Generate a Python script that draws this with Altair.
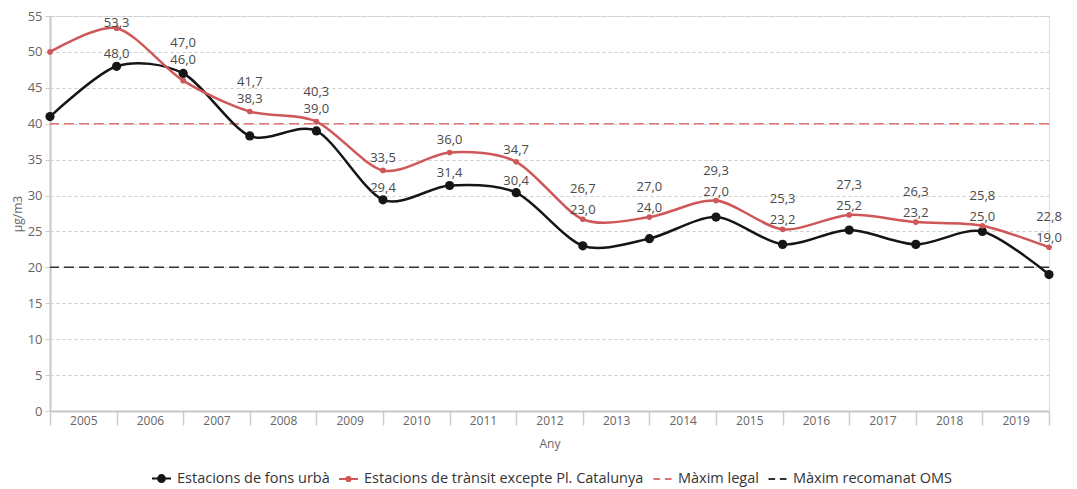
import json
import altair as alt
import pandas as pd

# ---------------- data ----------------
years = ["2005", "2006", "2007", "2008", "2009", "2010", "2011", "2012",
         "2013", "2014", "2015", "2016", "2017", "2018", "2019"]
black_vals = [41.0, 48.0, 47.0, 38.3, 39.0, 29.4, 31.4, 30.4,
              23.0, 24.0, 27.0, 23.2, 25.2, 23.2, 25.0, 19.0]
red_vals = [50.0, 53.3, 46.0, 41.7, 40.3, 33.5, 36.0, 34.7,
            26.7, 27.0, 29.3, 25.3, 27.3, 26.3, 25.8, 22.8]
series_names = ["Estacions de fons urbà",
                "Estacions de trànsit excepte Pl. Catalunya",
                "Màxim legal", "Màxim recomanat OMS"]
legal_max = 40
oms_max = 20
y_ticks = list(range(0, 56, 5))

# ---------------- layout ----------------
W, H = 999, 395
YMAX = 55
PXU = H / YMAX
FONT = "Open Sans"
BLACK = "#151515"
RED = "#cf5757"
RED_REF = "#dd7777"
GRAY_TXT = "#666666"

idx = list(range(len(black_vals)))
df_black = pd.DataFrame({"idx": idx, "val": black_vals})
df_red = pd.DataFrame({"idx": idx, "val": red_vals})


def fmt(v):
    return f"{v:.1f}".replace(".", ",")


def py(v):
    return (YMAX - v) * PXU


# data-label placement (simple collision avoidance between the two series)
rows = []
for i in range(1, len(black_vals)):
    b, r = black_vals[i], red_vals[i]
    hi, lo = max(b, r), min(b, r)
    if hi - lo < 3.45 or (hi - lo < 4.0 and i > 5):
        c_hi = py(hi) - 30
        c_lo = py(hi) - (13 if i < 5 else 9)
    else:
        c_hi = py(hi) - 12
        c_lo = py(lo) - 12
    c_hi = max(c_hi, 7)
    c_lo = max(c_lo, c_hi + 17)
    rows.append({"idx": i, "val": YMAX - c_hi / PXU, "txt": fmt(hi)})
    rows.append({"idx": i, "val": YMAX - c_lo / PXU, "txt": fmt(lo)})
df_lab = pd.DataFrame(rows)

years_js = json.dumps(years)
x_vals = [i / 2 for i in range(0, 2 * len(years) + 1)]

x_scale = alt.Scale(domain=[0, len(years)], nice=False, zero=False)
y_scale = alt.Scale(domain=[0, YMAX], nice=False)

x_axis = alt.Axis(
    values=x_vals,
    labelExpr=f"datum.value % 1 == 0 ? '' : {years_js}[floor(datum.value)]",
    tickOpacity={"condition": {"test": "datum.value % 1 == 0", "value": 1}, "value": 0},
    tickSize=14, tickColor="#cccccc", tickWidth=1.5,
    domainColor="#c8c8c8", domainWidth=2,
    labelFont=FONT, labelFontSize=12, labelColor=GRAY_TXT, labelPadding=-10,
    labelFlush=False, labelOverlap=False,
    grid=False, title="Any", titleFont=FONT, titleFontSize=12,
    titleFontWeight="normal", titleColor=GRAY_TXT, titlePadding=12,
)
y_axis = alt.Axis(
    values=y_ticks, grid=True, gridDash=[3, 3], gridColor="#cccccc",
    gridWidth=1, domainColor="#c8c8c8", domainWidth=2,
    tickColor="#cccccc", tickSize=5,
    labelFont=FONT, labelFontSize=13, labelColor=GRAY_TXT, labelPadding=3,
    title="µg/m3", titleFont=FONT, titleFontSize=12, titleFontWeight="normal",
    titleColor=GRAY_TXT, titlePadding=3,
)

X = alt.X("idx:Q", scale=x_scale, axis=x_axis)
Y = alt.Y("val:Q", scale=y_scale, axis=y_axis)

ref_legal = alt.Chart(pd.DataFrame({"val": [legal_max]})).mark_rule(
    color=RED_REF, strokeDash=[10, 5], strokeWidth=1.5
).encode(y=Y)
ref_oms = alt.Chart(pd.DataFrame({"val": [oms_max]})).mark_rule(
    color="#333333", strokeDash=[10, 5], strokeWidth=1.5
).encode(y=Y)

black_line = alt.Chart(df_black).mark_line(
    color=BLACK, strokeWidth=2.5, interpolate="cardinal", tension=0.15
).encode(x=X, y=Y)
black_pts = alt.Chart(df_black).mark_circle(
    color=BLACK, size=85, opacity=1
).encode(x=X, y=Y)
red_line = alt.Chart(df_red).mark_line(
    color=RED, strokeWidth=2.5, interpolate="cardinal", tension=0.15
).encode(x=X, y=Y)
red_pts = alt.Chart(df_red).mark_circle(
    color=RED, size=32, opacity=1
).encode(x=X, y=Y)

labels = alt.Chart(df_lab).mark_text(
    font=FONT, fontSize=13, color="#4a4a4a", baseline="middle", align="center"
).encode(x=X, y=Y, text="txt:N")

# legend-only layer (no visible marks)
r1, r2 = 0.36, 0.22
shape_paths = [
    f"M-1,0L1,0M-{r1},0A{r1},{r1} 0 1,0 {r1},0A{r1},{r1} 0 1,0 -{r1},0Z",
    f"M-1,0L1,0M-{r2},0A{r2},{r2} 0 1,0 {r2},0A{r2},{r2} 0 1,0 -{r2},0Z",
    "M-0.95,0L-0.25,0M0.25,0L0.95,0",
    "M-0.95,0L-0.25,0M0.25,0L0.95,0",
]
leg_colors = [BLACK, RED, RED_REF, "#333333"]
df_leg = pd.DataFrame({"series": series_names, "idx": [0] * 4,
                       "val": [None] * 4})
leg_scale_c = alt.Scale(domain=series_names, range=leg_colors)
legend = alt.Legend(
    orient="none", legendX=101, legendY=452,
    direction="horizontal", title=None,
    labelFont=FONT, labelFontSize=14.5, labelColor="#333333",
    symbolSize=361, symbolStrokeWidth=2, labelOffset=5,
    columnPadding=5, labelLimit=400,
)
leg_layer = alt.Chart(df_leg).mark_point(opacity=1, strokeWidth=2).encode(
    x=X, y=Y,
    fill=alt.Fill("series:N", scale=leg_scale_c, legend=legend),
    stroke=alt.Stroke("series:N", scale=leg_scale_c, legend=legend),
    shape=alt.Shape("series:N", scale=alt.Scale(domain=series_names, range=shape_paths),
                    legend=legend),
)

chart = alt.layer(
    ref_legal, ref_oms, black_line, black_pts,
    red_line, red_pts, labels, leg_layer
).properties(
    width=W, height=H,
    autosize=alt.AutoSizeParams(type="none"),
    padding={"left": 42, "top": 8, "right": 20, "bottom": 78},
).configure_view(stroke=None).configure(font=FONT)

chart.save("out.html", embed_options={"renderer": "svg", "actions": False})
